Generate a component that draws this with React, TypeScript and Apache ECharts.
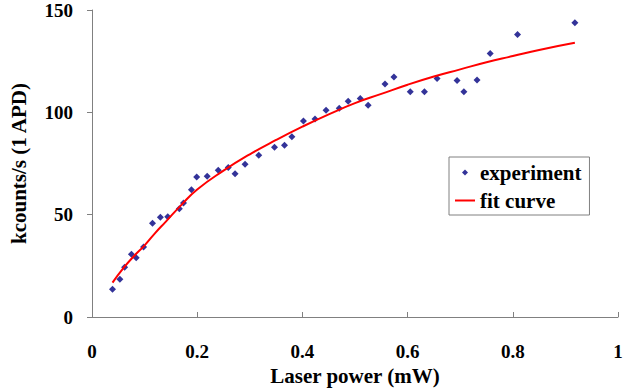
import React, { useEffect, useRef } from "react";
import * as echarts from "echarts";

// Experiment points (laser power in mW, kcounts/s)
const expPower = [
  0.039, 0.053, 0.062, 0.075, 0.084, 0.098, 0.115, 0.13, 0.144, 0.166,
  0.174, 0.189, 0.199, 0.219, 0.24, 0.259, 0.272, 0.291, 0.317, 0.347,
  0.366, 0.38, 0.402, 0.424, 0.445, 0.47, 0.487, 0.51, 0.525, 0.557,
  0.574, 0.605, 0.632, 0.656, 0.694, 0.707, 0.732, 0.757, 0.809, 0.918,
];
const expCounts = [
  13.5, 18.4, 24.3, 30.6, 29.0, 34.2, 45.8, 48.7, 49.0, 52.9,
  55.7, 62.2, 68.4, 68.8, 71.7, 73.0, 70.0, 74.6, 79.0, 82.9,
  83.9, 88.1, 95.8, 96.8, 101.0, 102.0, 105.4, 106.7, 103.5, 113.9,
  117.3, 110.1, 110.0, 116.5, 115.5, 110.0, 115.8, 128.7, 138.0, 143.8,
];

// Fit curve
const fitPower = [
  0.039, 0.06, 0.08, 0.1, 0.12, 0.14, 0.17, 0.2, 0.25, 0.3, 0.35, 0.4,
  0.45, 0.5, 0.55, 0.6, 0.65, 0.7, 0.75, 0.8, 0.85, 0.918,
];
const fitCounts = [
  16.8, 24, 29.8, 35, 41, 46.5, 54.8, 62.3, 71.5, 79.5, 86.5, 93,
  99, 104.5, 109, 113.5, 117.5, 121, 124.5, 127.5, 130.5, 134,
];

const xTicks = [0, 0.2, 0.4, 0.6, 0.8, 1];
const yTicks = [0, 50, 100, 150];

const seriesNames = ["experiment", "fit curve"];
const xName = "Laser power (mW)";
const yName = "kcounts/s (1 APD)";

const FONT = "Liberation Serif";

export default function App() {
  const ref = useRef<HTMLDivElement>(null);

  useEffect(() => {
    if (!ref.current) return;
    const chart = echarts.init(ref.current, null, { renderer: "svg" });
    const labelStyle = {
      fontFamily: FONT,
      fontWeight: "bold" as const,
      fontSize: 19,
      color: "#000",
    };
    chart.setOption({
      animation: false,
      backgroundColor: "#fff",
      textStyle: { fontFamily: FONT, fontWeight: "bold", color: "#000" },
      grid: {
        left: 92,
        top: 10,
        right: 25,
        bottom: 74,
        containLabel: false,
        outerBoundsMode: "none",
      },
      legend: {
        orient: "vertical",
        left: 449,
        top: 157,
        padding: [5, 8, 4, 6],
        itemGap: 7,
        itemWidth: 20,
        itemHeight: 6,
        symbolKeepAspect: true,
        backgroundColor: "#fff",
        borderColor: "#808080",
        borderWidth: 1,
        data: [
          {
            name: seriesNames[0],
            icon: "path://M3,0 L6,3 L3,6 L0,3 Z",
            itemStyle: { color: "#000080" },
          },
          {
            name: seriesNames[1],
            icon: "path://M0,0 L20,0 L20,2 L0,2 Z",
            itemStyle: { color: "#ff0000" },
          },
        ],
        textStyle: {
          fontFamily: FONT,
          fontWeight: "bold",
          fontSize: 21,
          color: "#000",
        },
      },
      xAxis: {
        type: "value",
        min: xTicks[0],
        max: xTicks[xTicks.length - 1],
        interval: xTicks[1] - xTicks[0],
        name: xName,
        nameLocation: "middle",
        nameGap: 48,
        nameTextStyle: { ...labelStyle, fontSize: 21 },
        axisLine: { show: true, lineStyle: { color: "#808080", width: 1 } },
        axisTick: { show: true, inside: true, length: 5, lineStyle: { color: "#808080" } },
        axisLabel: { ...labelStyle, margin: 25 },
        splitLine: { show: false },
      },
      yAxis: {
        type: "value",
        min: yTicks[0],
        max: yTicks[yTicks.length - 1],
        interval: yTicks[1] - yTicks[0],
        name: yName,
        nameLocation: "middle",
        nameGap: 63,
        nameTextStyle: { ...labelStyle, fontSize: 21 },
        axisLine: { show: true, lineStyle: { color: "#808080", width: 1 } },
        axisTick: { show: true, inside: false, length: 5, lineStyle: { color: "#808080" } },
        axisLabel: { ...labelStyle, margin: 19, padding: [8, 0, 0, 0] },
        splitLine: { show: false },
      },
      series: [
        {
          name: seriesNames[0],
          type: "scatter",
          symbol: "diamond",
          symbolSize: 7,
          itemStyle: { color: "#000080" },
          data: expPower.map((x, i) => [x, expCounts[i]]),
        },
        {
          name: seriesNames[1],
          type: "line",
          smooth: true,
          symbol: "none",
          lineStyle: { color: "#ff0000", width: 2 },
          itemStyle: { color: "#ff0000" },
          data: fitPower.map((x, i) => [x, fitCounts[i]]),
        },
      ],
    });
    return () => chart.dispose();
  }, []);

  return (
    <div
      ref={ref}
      style={{ position: "fixed", left: 0, top: 0, width: 643, height: 391 }}
    />
  );
}
